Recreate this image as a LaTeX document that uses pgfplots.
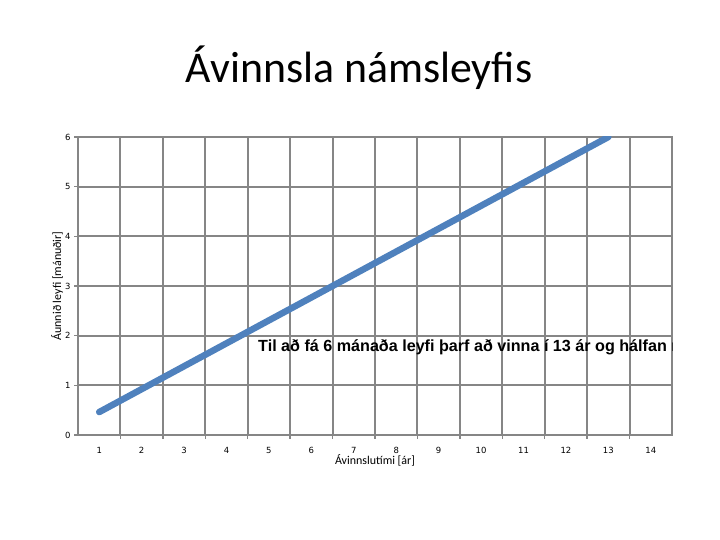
\documentclass[border=0pt]{standalone}
\usepackage{fontspec}
\setmainfont{Carlito}
\newfontfamily\tickfont{DejaVu Sans}
\newfontfamily\arialfont{Liberation Sans}
\usepackage{pgfplots}
\pgfplotsset{compat=1.18}
\definecolor{gridgray}{HTML}{868686}
\definecolor{serblue}{HTML}{4F81BD}

\begin{document}
\begin{tikzpicture}[x=1bp,y=1bp]
\useasboundingbox (0,0) rectangle (720,540);
\begin{axis}[name=ax,scale only axis,width=594bp,height=298bp,
  at={(78bp,105bp)},anchor=south west,
  xmin=0.5,xmax=14.5,ymin=0,ymax=6,
  xtick={1,...,14},ytick={0,...,6},
  minor xtick={1.5,2.5,...,13.5},
  major x tick style={draw=none},
  tick align=outside,tick pos=left,
  major tick length=4bp,minor tick length=4bp,
  xmajorgrids=false,xminorgrids=true,ymajorgrids=true,
  grid style={gridgray,line width=2bp},
  minor grid style={gridgray,line width=2bp},
  axis line style={gridgray,line width=2bp},
  every tick/.style={gridgray,line width=1.5bp},
  /pgf/number format/assume math mode=true,
  ticklabel style={font=\tickfont\fontsize{8.5}{10}\selectfont},
  xticklabel style={text height=6.5bp,text depth=0pt,anchor=north,yshift=-4bp},
  clip=true]
\addplot[serblue,line width=6.5bp,line cap=round] coordinates {
 (1,0.4615) (2,0.9231) (3,1.3846) (4,1.8462) (5,2.3077) (6,2.7692) (7,3.2308)
 (8,3.6923) (9,4.1538) (10,4.6154) (11,5.0769) (12,5.5385) (13,6.0)};
\end{axis}
\begin{scope}
\clip (0,0) rectangle (672,540);
\node[anchor=base west,inner sep=0pt,font=\arialfont\bfseries\fontsize{16.2}{19}\selectfont] at (258,188)
 {Til að fá 6 mánaða leyfi þarf að vinna í 13 ár og hálfan mánuð};
\end{scope}
\node[font=\fontsize{44}{50}\selectfont] at (359,472) {Ávinnsla námsleyfis};
\node[font=\fontsize{12}{14}\selectfont] at (375,80) {Ávinnslutími [ár]};
\node[rotate=90,font=\fontsize{12}{14}\selectfont] at (57,254) {Áunnið leyfi [mánuðir]};
\end{tikzpicture}
\end{document}
